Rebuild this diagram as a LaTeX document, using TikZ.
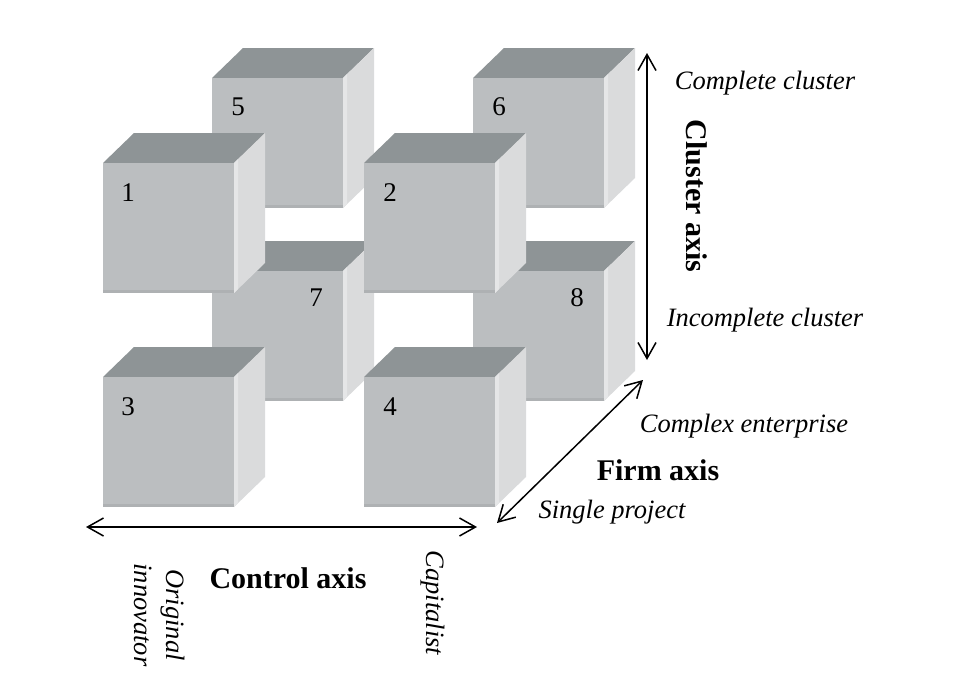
\documentclass[tikz,border=0pt]{standalone}
\usepackage{fontspec}
\setmainfont{Liberation Serif}
\usetikzlibrary{arrows.meta}
\definecolor{cfront}{HTML}{BBBEC0}
\definecolor{ctop}{HTML}{8E9496}
\definecolor{cside}{HTML}{DADBDC}
\definecolor{csidehi}{HTML}{E5E6E7}
\definecolor{cedge}{HTML}{AEB1B3}
\newcommand\mycube[4]{%
  \begin{scope}[shift={(#2)}]
    \fill[ctop] (0,0) -- (31,-30) -- (162,-30) -- (131,0) -- cycle;
    \fill[cside] (131,0) -- (162,-30) -- (162,100) -- (131,130) -- cycle;
    \fill[csidehi] (131,0) -- (135,-4) -- (135,126) -- (131,130) -- cycle;
    \fill[cfront] (0,0) rectangle (131,130);
    \fill[cedge] (0,127) rectangle (131,130);
    \node[num] (#1) at (#3) {#4};
  \end{scope}}
\tikzset{
  num/.style={inner sep=0pt, font=\fontsize{27}{30}\selectfont},
  itlabel/.style={inner sep=0pt, font=\fontsize{26.5}{32}\selectfont\itshape},
  bflabel/.style={inner sep=0pt, font=\fontsize{30}{34}\selectfont\bfseries},
  axisarrow/.style={line width=1.5pt, {Straight Barb[length=16pt,width=18pt]}-{Straight Barb[length=16pt,width=18pt]}}
}
\begin{document}
\begin{tikzpicture}[x=1pt,y=-1pt]
\useasboundingbox (0,0) rectangle (970,694);
% back cubes
\mycube{n5}{212,78}{26,29}{5}
\mycube{n6}{473,78}{26,29}{6}
\mycube{n7}{212,271}{104,27}{7}
\mycube{n8}{473,271}{104,27}{8}
% front cubes
\mycube{n1}{103,163}{25,30}{1}
\mycube{n2}{364,163}{26,30}{2}
\mycube{n3}{103,377}{25,30}{3}
\mycube{n4}{364,377}{26,30}{4}
% axes
\coordinate (cT) at (647,53);
\coordinate (cB) at (647,360);
\coordinate (hL) at (86,527);
\coordinate (hR) at (477,527);
\coordinate (fB) at (497,523);
\coordinate (fT) at (643,380);
\draw[axisarrow] (cT) -- (cB);
\draw[axisarrow] (hL) -- (hR);
\draw[axisarrow] (fB) -- (fT);
% labels
\node[itlabel] (lcc) at (765,83) {Complete cluster};
\node[bflabel, rotate=-90] (lca) at (697,196) {Cluster axis};
\node[itlabel] (lic) at (765,320) {Incomplete cluster};
\node[itlabel] (lce) at (744,426) {Complex enterprise};
\node[bflabel] (lfa) at (658,470) {Firm axis};
\node[itlabel] (lsp) at (612,512) {Single project};
\node[bflabel] (lct) at (288,578) {Control axis};
\node[itlabel, rotate=-90, align=center] (loi) at (160,615) {Original\\innovator};
\node[itlabel, rotate=-90] (lcap) at (433,603) {Capitalist};
\end{tikzpicture}
\end{document}
